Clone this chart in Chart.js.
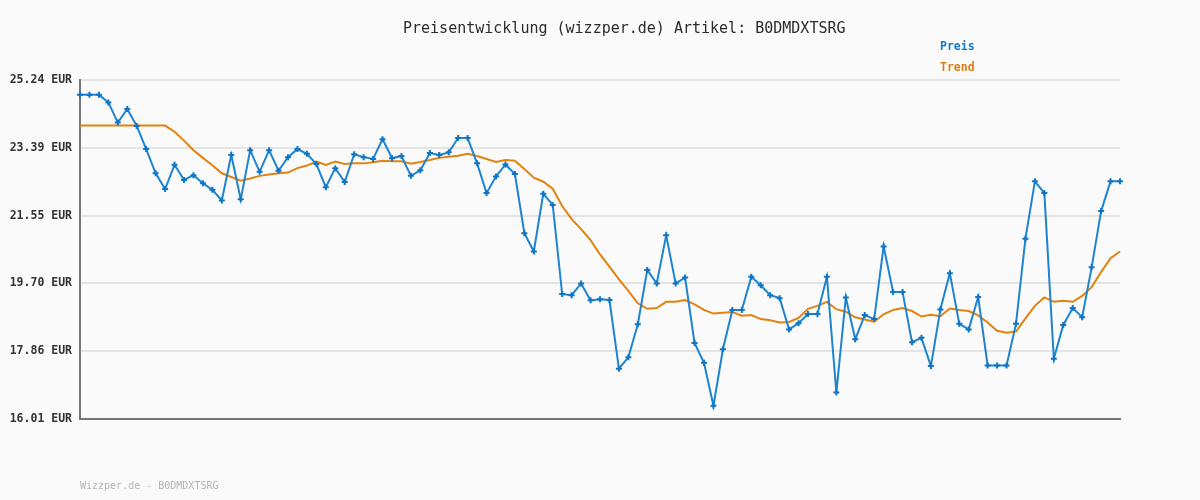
<!DOCTYPE html>
<html>
<head>
<meta charset="utf-8">
<script src="https://cdn.jsdelivr.net/npm/chart.js@4.4.0/dist/chart.umd.min.js"></script>
<style>
  body { margin: 0; background: #fafafa; }
  #wrap { position: relative; width: 1200px; height: 500px; }
  #wrap canvas { position: absolute; left: 0; top: 0; }
  .title { position: absolute; left: 403px; top: 19px; font: 15px "DejaVu Sans Mono", monospace; color: #2b2b2b; white-space: nowrap; }
  .legend { position: absolute; left: 940px; font: bold 11.5px "DejaVu Sans Mono", monospace; }
  .footer { position: absolute; left: 80px; top: 480px; font: 10px "DejaVu Sans Mono", monospace; color: #b4b4b4; }
</style>
</head>
<body>
<div id="wrap">
  <canvas id="priceChart" width="1200" height="500"></canvas>
  <div class="title">Preisentwicklung (wizzper.de) Artikel: B0DMDXTSRG</div>
  <div class="legend" style="top:39px;color:#1479c9">Preis</div>
  <div class="legend" style="top:60px;color:#e07d10">Trend</div>
  <div class="footer">Wizzper.de - B0DMDXTSRG</div>
</div>
<script>
// Preisverlauf
const price = [24.84, 24.84, 24.84, 24.63, 24.08, 24.45, 23.99, 23.36, 22.70, 22.27,
  22.93, 22.52, 22.65, 22.43, 22.25, 21.96, 23.20, 21.99, 23.33, 22.74,
  23.33, 22.77, 23.14, 23.36, 23.23, 22.95, 22.32, 22.84, 22.46, 23.22,
  23.14, 23.09, 23.63, 23.11, 23.17, 22.63, 22.78, 23.25, 23.20, 23.27,
  23.66, 23.66, 22.97, 22.16, 22.61, 22.94, 22.68, 21.07, 20.57, 22.14,
  21.84, 19.41, 19.38, 19.70, 19.24, 19.27, 19.25, 17.38, 17.69, 18.59,
  20.07, 19.70, 21.01, 19.70, 19.86, 18.08, 17.54, 16.37, 17.91, 18.98,
  18.98, 19.88, 19.65, 19.38, 19.30, 18.45, 18.62, 18.87, 18.87, 19.88,
  16.73, 19.32, 18.18, 18.84, 18.73, 20.71, 19.47, 19.47, 18.10, 18.22,
  17.45, 18.99, 19.98, 18.60, 18.45, 19.33, 17.47, 17.47, 17.47, 18.60,
  20.92, 22.48, 22.16, 17.65, 18.57, 19.03, 18.78, 20.14, 21.67, 22.48,
  22.48]

// Trendlinie
const trend = [24.00, 24.00, 24.00, 24.00, 24.00, 24.00, 24.00, 24.00, 24.00, 24.00,
  23.83, 23.59, 23.33, 23.12, 22.92, 22.70, 22.60, 22.50, 22.56, 22.63,
  22.67, 22.70, 22.72, 22.84, 22.91, 23.02, 22.93, 23.02, 22.95, 22.97,
  22.97, 23.00, 23.04, 23.03, 23.03, 22.96, 23.01, 23.06, 23.12, 23.15,
  23.18, 23.23, 23.17, 23.09, 23.01, 23.06, 23.04, 22.82, 22.58, 22.47,
  22.28, 21.81, 21.45, 21.18, 20.88, 20.49, 20.16, 19.81, 19.50, 19.16,
  19.01, 19.03, 19.20, 19.20, 19.25, 19.13, 18.98, 18.88, 18.90, 18.92,
  18.82, 18.84, 18.73, 18.70, 18.64, 18.65, 18.76, 19.01, 19.09, 19.20,
  19.00, 18.93, 18.78, 18.72, 18.66, 18.86, 18.98, 19.03, 18.95, 18.80,
  18.85, 18.81, 19.02, 18.98, 18.95, 18.83, 18.64, 18.41, 18.36, 18.39,
  18.75, 19.09, 19.32, 19.20, 19.23, 19.20, 19.36, 19.60, 20.01, 20.39,
  20.57]

const yTicks = [16.01, 17.86, 19.70, 21.55, 23.39, 25.24]
const labels = price.map((_, i) => '' + i)

const ctx = document.getElementById('priceChart').getContext('2d')
new Chart(ctx, {
  type: 'line',
  data: {
    labels: labels,
    datasets: [
      {
        label: 'Trend',
        data: trend,
        borderColor: '#e2820f',
        borderWidth: 2,
        pointRadius: 0,
        tension: 0,
        order: 2
      },
      {
        label: 'Preis',
        data: price,
        borderColor: '#1f84cf',
        borderWidth: 2,
        pointStyle: 'cross',
        pointRadius: 3,
        pointBorderWidth: 2,
        pointBorderColor: '#0f75c4',
        tension: 0,
        order: 1
      }
    ]
  },
  options: {
    responsive: false,
    animation: false,
    layout: { padding: { top: 80, right: 80, bottom: 81, left: 0 } },
    plugins: {
      legend: { display: false },
      tooltip: { enabled: false }
    },
    scales: {
      x: {
        offset: false,
        grid: { display: false, drawTicks: false },
        border: { display: true, color: '#777', width: 2 },
        ticks: { display: false },
        afterFit: (scale) => { scale.height = 0 }
      },
      y: {
        min: yTicks[0],
        max: yTicks[yTicks.length - 1],
        afterBuildTicks: (scale) => { scale.ticks = yTicks.map(v => ({ value: v })) },
        afterFit: (scale) => { scale.width = 80 },
        grid: { color: '#e4e4e4', lineWidth: 2, drawTicks: false },
        border: { display: true, color: '#777', width: 2 },
        ticks: {
          padding: 8,
          color: '#333',
          font: { family: 'DejaVu Sans Mono', size: 11.5, weight: 'bold' },
          callback: (v) => Number(v).toFixed(2) + ' EUR'
        }
      }
    }
  }
})
</script>
</body>
</html>
